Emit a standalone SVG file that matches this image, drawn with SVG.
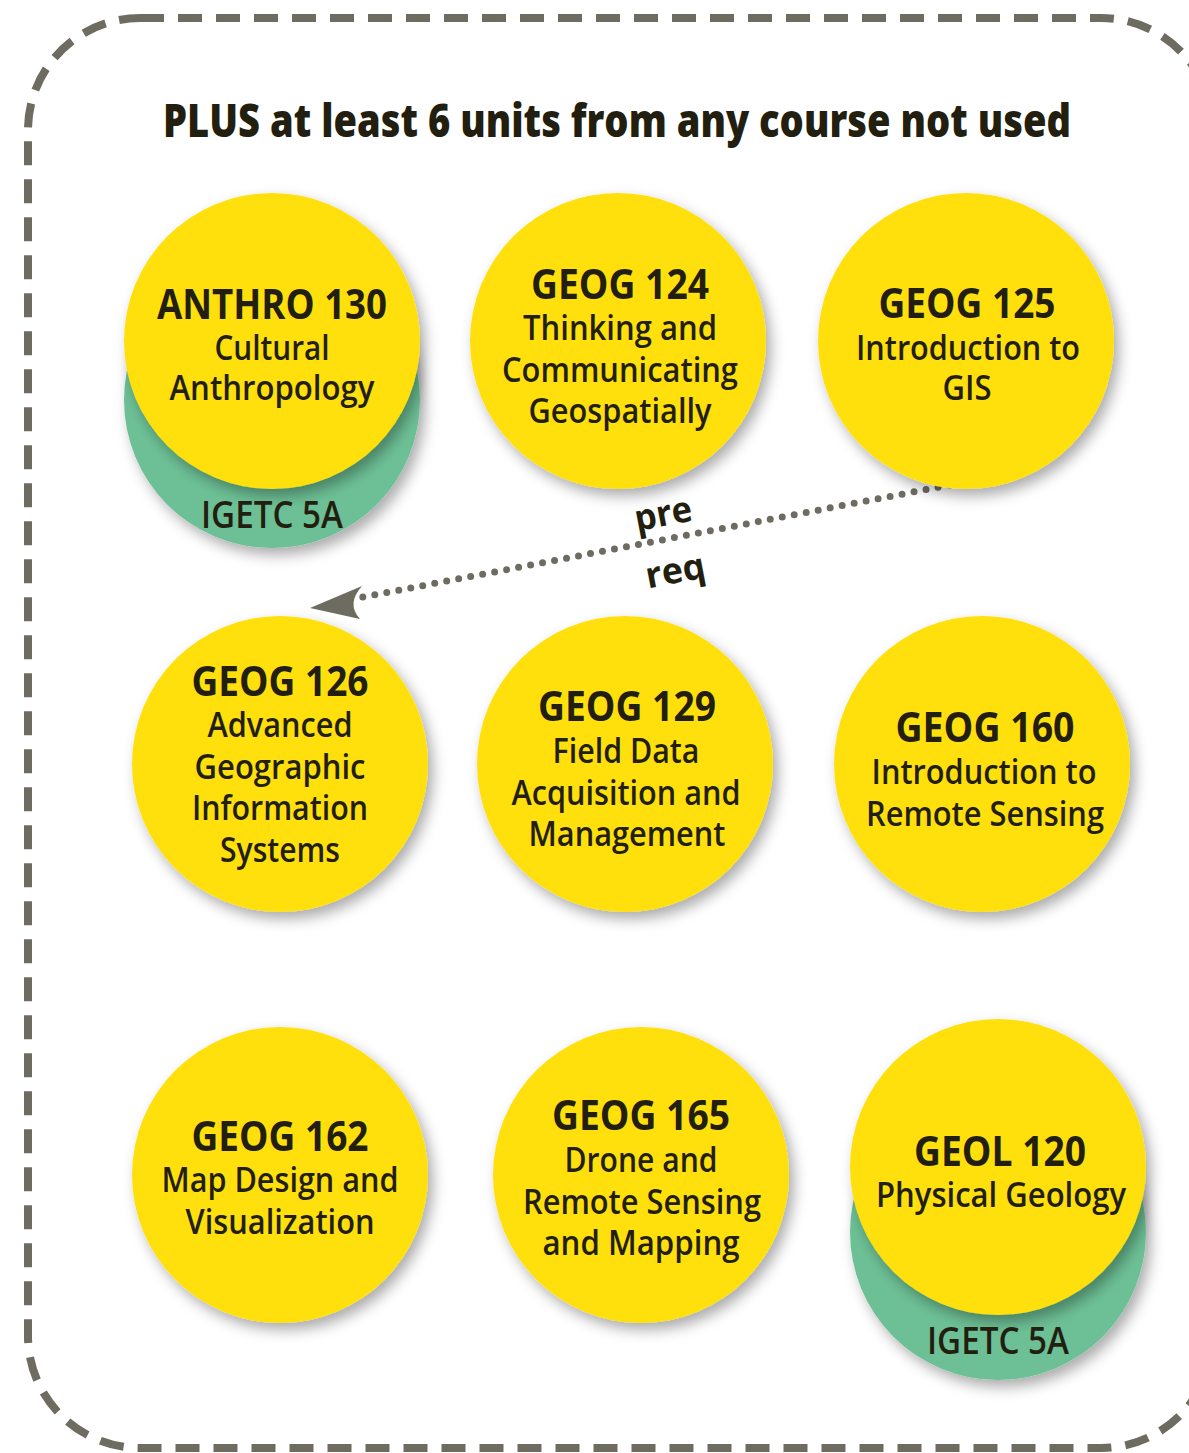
<svg xmlns="http://www.w3.org/2000/svg" width="1189" height="1453" viewBox="0 0 1189 1453">
<defs>
<filter id="sh" x="-20%" y="-20%" width="150%" height="150%">
<feDropShadow dx="5" dy="7" stdDeviation="7" flood-color="#000" flood-opacity="0.33"/>
</filter>
<style>
.y{fill:#FFE00F;filter:url(#sh)}
.g{fill:#6DC095;filter:url(#sh)}
text{font-family:"Open Sans","Noto Sans",sans-serif;fill:#231F10;text-anchor:middle}
.t{font-size:46px;font-weight:800}
.c{font-size:41px;font-weight:700}
.s{font-size:34px;font-weight:650}
.i{font-size:38px;font-weight:650}
.pr{font-size:36px;font-weight:700}
</style>
</defs>
<rect width="1189" height="1453" fill="#fff"/>
<rect id="frame" x="28" y="18" width="1185" height="1430" rx="112" ry="112" fill="none" stroke="#6E6B60" stroke-width="8" stroke-dasharray="24 14"/>
<text class="t" x="617" y="137" textLength="908" lengthAdjust="spacingAndGlyphs">PLUS at least 6 units from any course not used</text>

<g id="connectors">
<line x1="950" y1="485" x2="358" y2="598" stroke="#6E6B60" stroke-width="7" stroke-linecap="round" stroke-dasharray="0 12.2"/>
<path d="M310,608 L362,586 Q346,604 360,619 Z" fill="#6E6B60"/>
<text class="pr" x="663" y="526" transform="rotate(-10.8 663 513)" textLength="58" lengthAdjust="spacingAndGlyphs">pre</text>
<text class="pr" x="675" y="583" transform="rotate(-10.8 675 570)" textLength="60" lengthAdjust="spacingAndGlyphs">req</text>
</g>

<g id="anthro130">
<circle class="g" cx="272" cy="400" r="148"/>
<circle class="y" cx="272" cy="341" r="148"/>
<text class="c" x="272" y="319" textLength="230" lengthAdjust="spacingAndGlyphs">ANTHRO 130</text>
<text class="s" x="272" y="360" textLength="115" lengthAdjust="spacingAndGlyphs">Cultural</text>
<text class="s" x="272" y="400" textLength="205" lengthAdjust="spacingAndGlyphs">Anthropology</text>
<text class="i" x="272" y="528" textLength="142" lengthAdjust="spacingAndGlyphs">IGETC 5A</text>
</g>

<g id="geog124">
<circle class="y" cx="618" cy="341" r="148"/>
<text class="c" x="620" y="299" textLength="178" lengthAdjust="spacingAndGlyphs">GEOG 124</text>
<text class="s" x="620" y="340" textLength="194" lengthAdjust="spacingAndGlyphs">Thinking and</text>
<text class="s" x="620" y="382" textLength="236" lengthAdjust="spacingAndGlyphs">Communicating</text>
<text class="s" x="620" y="423" textLength="183" lengthAdjust="spacingAndGlyphs">Geospatially</text>
</g>

<g id="geog125">
<circle class="y" cx="966" cy="341" r="148"/>
<text class="c" x="967" y="318" textLength="177" lengthAdjust="spacingAndGlyphs">GEOG 125</text>
<text class="s" x="968" y="360" textLength="224" lengthAdjust="spacingAndGlyphs">Introduction to</text>
<text class="s" x="967" y="400" textLength="49" lengthAdjust="spacingAndGlyphs">GIS</text>
</g>

<g id="geog126">
<circle class="y" cx="280" cy="764" r="148"/>
<text class="c" x="280" y="696" textLength="177" lengthAdjust="spacingAndGlyphs">GEOG 126</text>
<text class="s" x="280" y="737" textLength="145" lengthAdjust="spacingAndGlyphs">Advanced</text>
<text class="s" x="280" y="779" textLength="171" lengthAdjust="spacingAndGlyphs">Geographic</text>
<text class="s" x="280" y="820" textLength="176" lengthAdjust="spacingAndGlyphs">Information</text>
<text class="s" x="280" y="862" textLength="120" lengthAdjust="spacingAndGlyphs">Systems</text>
</g>

<g id="geog129">
<circle class="y" cx="625" cy="764" r="148"/>
<text class="c" x="627" y="721" textLength="178" lengthAdjust="spacingAndGlyphs">GEOG 129</text>
<text class="s" x="626" y="763" textLength="147" lengthAdjust="spacingAndGlyphs">Field Data</text>
<text class="s" x="626" y="805" textLength="229" lengthAdjust="spacingAndGlyphs">Acquisition and</text>
<text class="s" x="627" y="846" textLength="197" lengthAdjust="spacingAndGlyphs">Management</text>
</g>

<g id="geog160">
<circle class="y" cx="982" cy="764" r="148"/>
<text class="c" x="985" y="742" textLength="179" lengthAdjust="spacingAndGlyphs">GEOG 160</text>
<text class="s" x="984" y="784" textLength="225" lengthAdjust="spacingAndGlyphs">Introduction to</text>
<text class="s" x="985" y="826" textLength="238" lengthAdjust="spacingAndGlyphs">Remote Sensing</text>
</g>

<g id="geog162">
<circle class="y" cx="280" cy="1175" r="148"/>
<text class="c" x="280" y="1151" textLength="177" lengthAdjust="spacingAndGlyphs">GEOG 162</text>
<text class="s" x="280" y="1192" textLength="237" lengthAdjust="spacingAndGlyphs">Map Design and</text>
<text class="s" x="280" y="1234" textLength="189" lengthAdjust="spacingAndGlyphs">Visualization</text>
</g>

<g id="geog165">
<circle class="y" cx="641" cy="1175" r="148"/>
<text class="c" x="641" y="1130" textLength="178" lengthAdjust="spacingAndGlyphs">GEOG 165</text>
<text class="s" x="641" y="1172" textLength="153" lengthAdjust="spacingAndGlyphs">Drone and</text>
<text class="s" x="642" y="1214" textLength="238" lengthAdjust="spacingAndGlyphs">Remote Sensing</text>
<text class="s" x="641" y="1255" textLength="197" lengthAdjust="spacingAndGlyphs">and Mapping</text>
</g>

<g id="geol120">
<circle class="g" cx="998" cy="1232" r="148"/>
<circle class="y" cx="998" cy="1167" r="148"/>
<text class="c" x="1000" y="1166" textLength="172" lengthAdjust="spacingAndGlyphs">GEOL 120</text>
<text class="s" x="1001" y="1207" textLength="250" lengthAdjust="spacingAndGlyphs">Physical Geology</text>
<text class="i" x="998" y="1354" textLength="142" lengthAdjust="spacingAndGlyphs">IGETC 5A</text>
</g>
</svg>
